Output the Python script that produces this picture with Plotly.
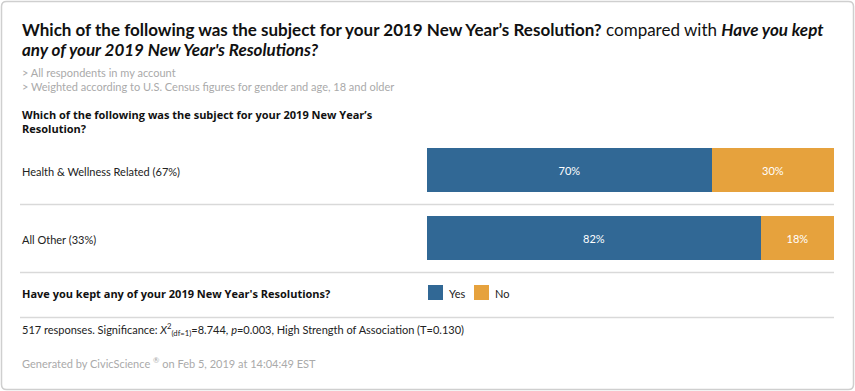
import plotly.graph_objects as go

categories = ["Health & Wellness Related (67%)", "All Other (33%)"]
series_names = ["Yes", "No"]
yes_values = [70, 82]
no_values = [30, 18]
colors = ["#316895", "#E6A23D"]

W, H = 855, 391
FONT = "Lato"
BFONT = "Open Sans"

def py(p):
    return 1 - p / H

def px(p):
    return p / W

fig = go.Figure()
for name, vals, col in zip(series_names, [yes_values, no_values], colors):
    fig.add_trace(go.Bar(
        y=categories, x=vals, orientation="h", name=name,
        marker=dict(color=col, line=dict(width=0)),
        text=[f"{v}%" for v in vals], textposition="inside",
        insidetextanchor="middle",
        textfont=dict(color="white", size=11, family=FONT),
        width=0.655, showlegend=False, hoverinfo="skip",
    ))

fig.update_layout(
    width=W, height=H, barmode="stack",
    margin=dict(l=0, r=0, t=0, b=0),
    paper_bgcolor="white", plot_bgcolor="white",
    font=dict(family=FONT, color="#222"),
    xaxis=dict(domain=[px(427), px(834)], range=[0, 100], visible=False, fixedrange=True),
    yaxis=dict(domain=[py(272), py(136)], range=[1.5, -0.5], type="category",
               visible=False, fixedrange=True),
)

shapes = []
r = 5
x0, y0, x1, y1 = 1.5, 1.5, 853.5, 389.5
shapes.append(dict(
    type="path", xref="paper", yref="paper",
    path=(f"M {px(x0+r)},{py(y0)} L {px(x1-r)},{py(y0)} Q {px(x1)},{py(y0)} {px(x1)},{py(y0+r)} "
          f"L {px(x1)},{py(y1-r)} Q {px(x1)},{py(y1)} {px(x1-r)},{py(y1)} "
          f"L {px(x0+r)},{py(y1)} Q {px(x0)},{py(y1)} {px(x0)},{py(y1-r)} "
          f"L {px(x0)},{py(y0+r)} Q {px(x0)},{py(y0)} {px(x0+r)},{py(y0)} Z"),
    line=dict(color="#cfcfcf", width=1.5), fillcolor="rgba(0,0,0,0)", layer="below"))
for yy in [204.5, 272.5, 317.5]:
    shapes.append(dict(type="line", xref="paper", yref="paper",
                       x0=px(20), x1=px(834), y0=py(yy), y1=py(yy),
                       line=dict(color="#d9d9d9", width=1.5)))
leg_x = [428, 474]
for lx, col in zip(leg_x, colors):
    shapes.append(dict(type="rect", xref="paper", yref="paper",
                       x0=px(lx), x1=px(lx + 15), y0=py(300), y1=py(285),
                       fillcolor=col, line=dict(width=0)))
fig.update_layout(shapes=shapes)

ann = []
def A(x, y, text, size, color="#222", family=FONT):
    ann.append(dict(xref="paper", yref="paper", x=px(x), y=py(y), text=text,
                    showarrow=False, xanchor="left", yanchor="middle",
                    font=dict(size=size, color=color, family=family), align="left"))

A(20, 30, "<b>Which of the following was the subject for your 2019 New Year’s Resolution?</b> compared with <b><i>Have you kept</i></b>", 17, "#111")
A(20, 50, "<b><i>any of your 2019 New Year's Resolutions?</i></b>", 17, "#111")
A(20, 72, "> All respondents in my account", 11, "#aaa")
A(20, 87, "> Weighted according to U.S. Census figures for gender and age, 18 and older", 11, "#aaa")
A(20, 114, "<b>Which of the following was the subject for your 2019 New Year’s</b>", 11, "#111", BFONT)
A(20, 128, "<b>Resolution?</b>", 11, "#111", BFONT)
for cat, yy in zip(categories, [171, 239]):
    A(20, yy, cat, 11, "#222")
A(20, 293, "<b>Have you kept any of your 2019 New Year's Resolutions?</b>", 11, "#111", BFONT)
for lx, name in zip(leg_x, series_names):
    A(lx + 19, 293, name, 11, "#222")
A(20, 329, "517 responses. Significance: <i>X</i><sup>2</sup><sub>(df=1)</sub>=8.744, <i>p</i>=0.003, High Strength of Association (T=0.130)", 11, "#222")
A(20, 362, "Generated by CivicScience <sup>®</sup> on Feb 5, 2019 at 14:04:49 EST", 11, "#aaa")
fig.update_layout(annotations=ann)

fig.write_html("out.html", config={"displayModeBar": False},
               post_script="document.body.style.margin='0';document.body.style.overflow='hidden';")
